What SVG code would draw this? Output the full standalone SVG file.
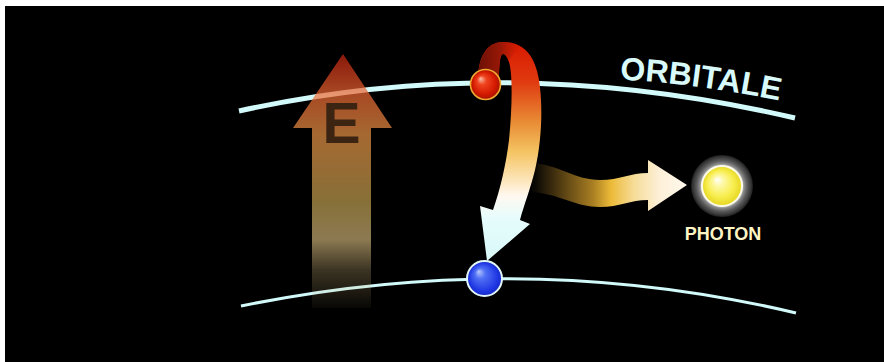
<svg xmlns="http://www.w3.org/2000/svg" width="884" height="362" viewBox="0 0 884 362">
  <style>
    .orbit { fill: none; stroke: #d2fafa; stroke-linecap: butt; }
    .label { font-family: "Liberation Sans", Arial, sans-serif; font-weight: bold; }
  </style>
  <defs>
    <!-- energy arrow: translucent, red at the tip, fading out at the foot -->
    <linearGradient id="energyFill" gradientUnits="userSpaceOnUse" x1="0" y1="54" x2="0" y2="308">
      <stop offset="0" stop-color="#c8220e" stop-opacity="0.7"/>
      <stop offset="0.16" stop-color="#f06a34" stop-opacity="0.7"/>
      <stop offset="0.32" stop-color="#ec9647" stop-opacity="0.7"/>
      <stop offset="0.58" stop-color="#c1a04f" stop-opacity="0.7"/>
      <stop offset="0.73" stop-color="#c8ae75" stop-opacity="0.7"/>
      <stop offset="0.85" stop-color="#c8ae75" stop-opacity="0.3"/>
      <stop offset="1" stop-color="#c8ae75" stop-opacity="0.04"/>
    </linearGradient>
    <!-- transition ribbon, red to pale cyan going down -->
    <linearGradient id="ribbonFill" gradientUnits="userSpaceOnUse" x1="0" y1="42" x2="0" y2="262">
      <stop offset="0" stop-color="#d81800"/>
      <stop offset="0.18" stop-color="#e03a10"/>
      <stop offset="0.36" stop-color="#e88a34"/>
      <stop offset="0.5" stop-color="#f5c462"/>
      <stop offset="0.63" stop-color="#fde6bc"/>
      <stop offset="0.7" stop-color="#fff8f0"/>
      <stop offset="0.8" stop-color="#e6fcfc"/>
      <stop offset="1" stop-color="#d8f8f8"/>
    </linearGradient>
    <linearGradient id="ribbonBack" gradientUnits="userSpaceOnUse" x1="478" y1="0" x2="520" y2="0">
      <stop offset="0" stop-color="#6c1006"/>
      <stop offset="0.55" stop-color="#9a1806"/>
      <stop offset="1" stop-color="#c01a02" stop-opacity="0"/>
    </linearGradient>
    <!-- emitted photon wave -->
    <linearGradient id="waveFill" gradientUnits="userSpaceOnUse" x1="535" y1="0" x2="687" y2="0">
      <stop offset="0" stop-color="#0a0804"/>
      <stop offset="0.15" stop-color="#4a3610"/>
      <stop offset="0.38" stop-color="#a87e22"/>
      <stop offset="0.5" stop-color="#ecba38"/>
      <stop offset="0.65" stop-color="#f6dc98"/>
      <stop offset="0.82" stop-color="#fdf0d8"/>
      <stop offset="1" stop-color="#fff8ec"/>
    </linearGradient>
    <radialGradient id="redBall" cx="0.5" cy="0.5" r="0.5" fx="0.33" fy="0.3">
      <stop offset="0" stop-color="#f8c0a8"/>
      <stop offset="0.3" stop-color="#f04420"/>
      <stop offset="0.75" stop-color="#d41a00"/>
      <stop offset="1" stop-color="#a81200"/>
    </radialGradient>
    <radialGradient id="blueBall" cx="0.5" cy="0.5" r="0.5" fx="0.33" fy="0.3">
      <stop offset="0" stop-color="#b8c8ff"/>
      <stop offset="0.3" stop-color="#5070f4"/>
      <stop offset="0.8" stop-color="#2038e4"/>
      <stop offset="1" stop-color="#1428c8"/>
    </radialGradient>
    <radialGradient id="halo" cx="0.5" cy="0.5" r="0.5">
      <stop offset="0" stop-color="#ffffff"/>
      <stop offset="0.65" stop-color="#d8d8d8"/>
      <stop offset="0.71" stop-color="#8e8e8e"/>
      <stop offset="0.82" stop-color="#5a5a5a"/>
      <stop offset="0.93" stop-color="#383838"/>
      <stop offset="1" stop-color="#1e1e1e"/>
    </radialGradient>
    <radialGradient id="yellowBall" cx="0.5" cy="0.5" r="0.5" fx="0.38" fy="0.33">
      <stop offset="0" stop-color="#ffffff"/>
      <stop offset="0.25" stop-color="#fdf8a8"/>
      <stop offset="0.65" stop-color="#f8ee50"/>
      <stop offset="1" stop-color="#e6d620"/>
    </radialGradient>
  </defs>

  <rect x="0" y="0" width="884" height="362" fill="#ffffff"/>
  <rect x="5" y="6" width="879" height="356" fill="#000000"/>

  <!-- orbitals -->
  <g id="orbit-upper">
    <path class="orbit" stroke-width="5" d="M 239 111 C 423 70 611 75 795 118"/>
  </g>
  <g id="orbit-lower">
    <path class="orbit" stroke-width="3" d="M 241 306 C 426 268 611 269 796 313"/>
  </g>

  <!-- energy arrow -->
  <g id="energy">
    <polygon points="343,54 392,128 371,128 371,308 312,308 312,128 293,128" fill="url(#energyFill)"/>
    <text class="label" x="341.5" y="143" font-size="57" fill="#3c2412" text-anchor="middle">E</text>
  </g>

  <!-- connectors: emitted photon and the electron's jump -->
  <g id="connectors">
    <path id="photon-wave" fill="url(#waveFill)"
      d="M 532 163 C 560 165 575 180 600 180 C 620 180 630 173 648 173 L 648 160 L 687 185 L 648 211 L 648 200 C 630 200 620 207 600 207 C 575 207 560 194 532 192 Z"/>
    <g id="transition">
      <path fill="url(#ribbonFill)"
        d="M 478 85 C 477 60 485 42 503 42 C 523 42 535 55 539 80 C 543 105 542 140 535 170 C 530 190 524 205 520 220 L 530 224 L 487 261 L 480 206 L 493 210 C 500 190 506 165 509 140 C 512 110 513 75 509 62 C 506 54 503 52 501 56 C 499 62 499 72 499 85 Z"/>
      <path fill="url(#ribbonBack)"
        d="M 478 85 C 477 60 485 42 503 42 C 510 42 516 43 520 46 L 509 60 C 506 54 503 52 501 56 C 499 62 499 72 499 85 Z"/>
    </g>
  </g>

  <!-- electrons -->
  <g id="electron-excited">
    <circle cx="485.5" cy="84.5" r="15" fill="url(#redBall)" stroke="#f0a830" stroke-width="1.6"/>
  </g>
  <g id="electron-ground">
    <circle cx="484.5" cy="278.5" r="17.5" fill="url(#blueBall)" stroke="#e2f6f8" stroke-width="2"/>
  </g>

  <!-- photon -->
  <g id="photon">
    <circle cx="722" cy="186" r="31" fill="url(#halo)"/>
    <circle cx="722" cy="186" r="20" fill="url(#yellowBall)" stroke="#fffbe8" stroke-width="2"/>
    <text class="label" x="723" y="240" font-size="18" fill="#fff5c4" text-anchor="middle">PHOTON</text>
  </g>

  <!-- orbital label following the curve -->
  <g id="orbital-label">
    <path id="labelCurve" d="M 610 79 Q 700 83 800 105" fill="none"/>
    <text class="label" font-size="32" fill="#d8fafa">
      <textPath href="#labelCurve" startOffset="10">ORBITALE</textPath>
    </text>
  </g>
</svg>
